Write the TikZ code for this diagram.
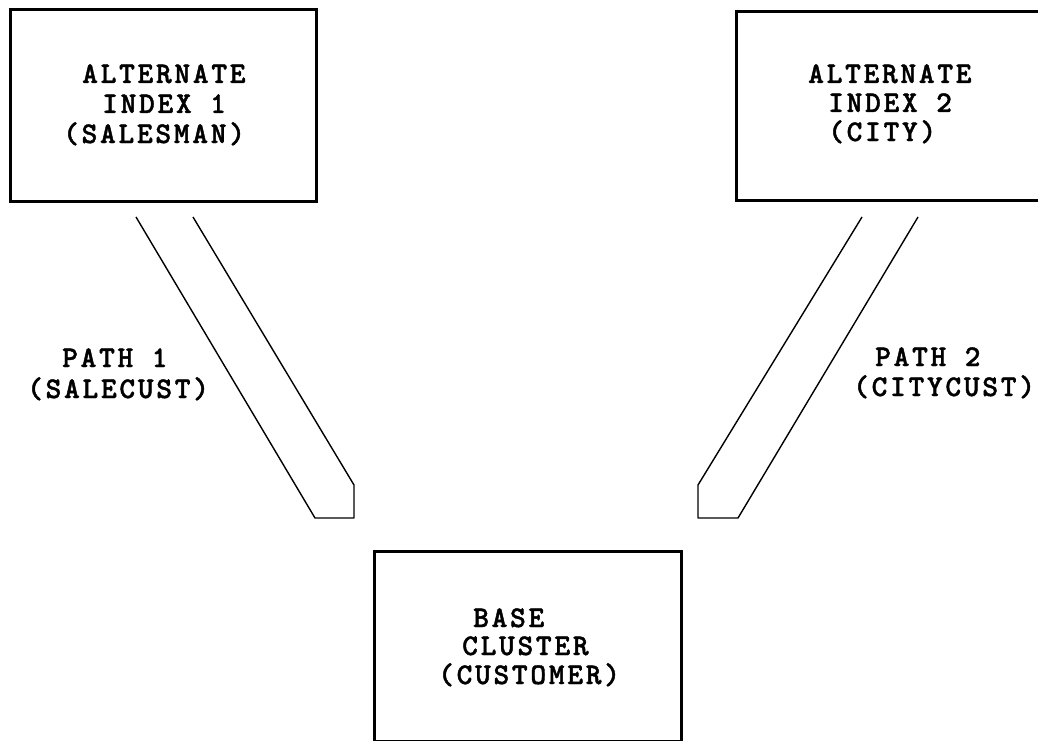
\documentclass[tikz,border=0pt]{standalone}
\usepackage{fontspec}
\newfontfamily\mono[LetterSpace=9,FakeBold=1.4]{lmmonolt10-bold.otf}
\begin{document}
\begin{tikzpicture}[x=1pt,y=-1pt,
  boxnode/.style={draw,line width=3pt,inner sep=0pt,anchor=north west},
  lbl/.style={anchor=base west,inner sep=0pt,font=\mono\fontsize{30}{34}\selectfont},
  pathline/.style={line width=1.4pt,line join=round}]
\useasboundingbox (0,0) rectangle (1038,741);
\begin{scope}
\clip (0,0) rectangle (1038,741);
% boxes
\node[boxnode,minimum width=306pt,minimum height=192pt] (ai1) at (9,8) {};
\node[boxnode,minimum width=320pt,minimum height=189pt] (ai2) at (735,10) {};
\node[boxnode,minimum width=307pt,minimum height=190pt] (base) at (373,550) {};
\end{scope}
% box texts
\node[lbl] (t1a) at (82,83) {ALTERNATE};
\node[lbl] (t1b) at (102,113) {INDEX 1};
\node[lbl] (t1c) at (63,143) {(SALESMAN)};
\node[lbl] (t2a) at (808,83) {ALTERNATE};
\node[lbl] (t2b) at (828,112) {INDEX 2};
\node[lbl] (t2c) at (828,141) {(CITY)};
\node[lbl] (t3a) at (473,627) {BASE};
\node[lbl] (t3b) at (462,655) {CLUSTER};
\node[lbl] (t3c) at (438,684) {(CUSTOMER)};
% path labels
\node[lbl] (p1a) at (62,367) {PATH 1};
\node[lbl] (p1b) at (27,398) {(SALECUST)};
\node[lbl] (p2a) at (875,366) {PATH 2};
\node[lbl] (p2b) at (853,396) {(CITYCUST)};
% path 1 shape
\coordinate (a1) at (136,217);
\coordinate (a2) at (315,518);
\coordinate (a3) at (354,518);
\coordinate (a4) at (354,485);
\coordinate (a5) at (193,217);
\draw[pathline] (a1) -- (a2) -- (a3) -- (a4) -- (a5);
% path 2 shape
\coordinate (b1) at (862,217);
\coordinate (b2) at (698,485);
\coordinate (b3) at (698,518);
\coordinate (b4) at (738,518);
\coordinate (b5) at (918,217);
\draw[pathline] (b1) -- (b2) -- (b3) -- (b4) -- (b5);
\end{tikzpicture}
\end{document}
